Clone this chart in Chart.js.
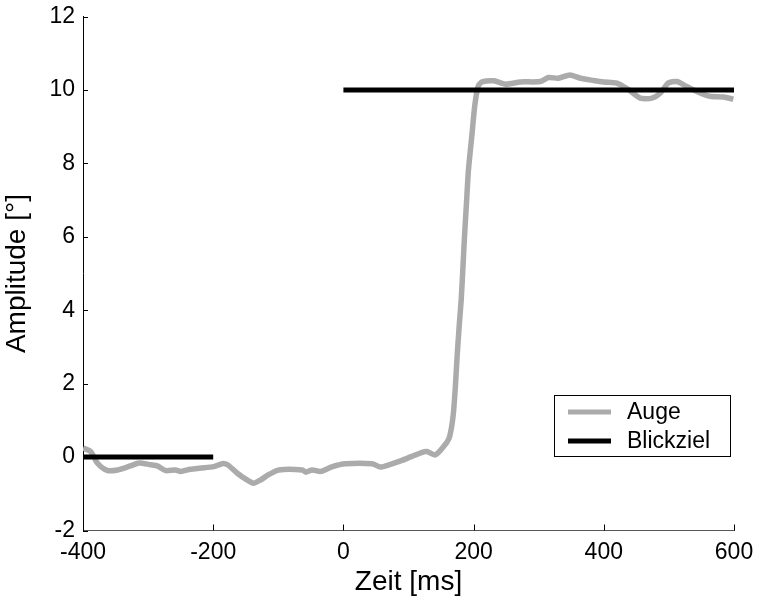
<!DOCTYPE html>
<html>
<head>
<meta charset="utf-8">
<script src="https://cdn.jsdelivr.net/npm/chart.js@4/dist/chart.umd.min.js"></script>
<style>
  body { margin: 0; background: #fff; }
  #box { width: 757px; height: 599px; }
</style>
</head>
<body>
<div id="box"><canvas id="canvas"></canvas></div>
<script>
// Auge (eye position)
var augeZeit = [-400,-388,-378,-363,-347,-327,-314,-296,-286,-273,-258,-250,-235,-219,-199,-186,-178,-163,-150,-138,
  -127,-115,-99,-63,-58,-48,-35,-17,3,44,57,70,90,105,118,128,141,154,162,166,
  169,172,175,178,181,184,186,189,192,197,202,207,213,231,249,272,302,315,330,348,
  364,384,400,420,438,456,474,487,499,512,527,548,563,584,599];
var augeWinkel = [0.25,0.15,-0.16,-0.36,-0.35,-0.24,-0.16,-0.21,-0.24,-0.37,-0.35,-0.39,-0.33,-0.30,-0.26,-0.18,-0.21,-0.44,-0.60,-0.71,
  -0.62,-0.48,-0.35,-0.35,-0.41,-0.35,-0.39,-0.26,-0.18,-0.18,-0.27,-0.21,-0.09,0.02,0.11,0.15,0.06,0.29,0.5,0.8,
  1.2,1.92,2.83,3.6,4.3,5.3,6.0,6.9,7.8,8.7,9.6,10.1,10.22,10.25,10.16,10.22,10.23,10.34,10.32,10.41,
  10.32,10.26,10.22,10.19,10.01,9.78,9.78,9.92,10.19,10.23,10.10,9.92,9.83,9.81,9.75];

// Blickziel (target), null = gap
var zielZeit = [-400, -200, -100, 0, 600];
var zielWinkel = [0, 0, null, 10, 10];

var xTicks = [-400, -200, 0, 200, 400, 600];
var yTicks = [-2, 0, 2, 4, 6, 8, 10, 12];

function points(xs, ys) {
  return xs.map(function (x, i) { return { x: x, y: ys[i] }; });
}

var font = 'Liberation Sans, Arial, sans-serif';

// inward tick marks + legend box, matlab style
var matlabStuff = {
  id: 'matlabStuff',
  afterDraw: function (chart) {
    var ctx = chart.ctx;
    var xs = chart.scales.x, ys = chart.scales.y;
    var a = chart.chartArea;
    ctx.save();
    ctx.lineWidth = 1;
    ctx.strokeStyle = '#000';
    yTicks.forEach(function (v) {
      var py = Math.round(ys.getPixelForValue(v)) + 0.5;
      ctx.beginPath();
      ctx.moveTo(a.left, py);
      ctx.lineTo(a.left + 5, py);
      ctx.stroke();
    });
    xTicks.forEach(function (v) {
      var px = Math.round(xs.getPixelForValue(v)) + 0.5;
      ctx.beginPath();
      ctx.moveTo(px, a.bottom);
      ctx.lineTo(px, a.bottom - 6);
      ctx.stroke();
    });

    // legend
    ctx.fillStyle = '#fff';
    ctx.fillRect(554.5, 395.5, 176, 61);
    ctx.strokeRect(554.5, 395.5, 176, 61);
    var rows = [[412, chart.data.datasets[0]], [441, chart.data.datasets[1]]];
    rows.forEach(function (r) {
      ctx.strokeStyle = r[1].borderColor;
      ctx.lineWidth = 5;
      ctx.beginPath();
      ctx.moveTo(568, r[0]);
      ctx.lineTo(611, r[0]);
      ctx.stroke();
      ctx.fillStyle = '#000';
      ctx.font = '23px ' + font;
      ctx.textBaseline = 'middle';
      ctx.fillText(r[1].label, 627, r[0] + 1);
    });
    ctx.restore();
  }
};

var ctx = document.getElementById('canvas').getContext('2d');
var chart = new Chart(ctx, {
  type: 'line',
  data: {
    datasets: [{
      label: 'Auge',
      data: points(augeZeit, augeWinkel),
      borderColor: '#ababab',
      borderWidth: 5.5,
      pointRadius: 0,
      tension: 0.25,
      order: 2
    }, {
      label: 'Blickziel',
      data: points(zielZeit, zielWinkel),
      borderColor: '#000',
      borderWidth: 5,
      pointRadius: 0,
      spanGaps: false,
      order: 1
    }]
  },
  options: {
    responsive: true,
    maintainAspectRatio: false,
    animation: false,
    layout: { padding: { left: 0, right: 23, top: 16.6, bottom: 0 } },
    plugins: {
      legend: { display: false },
      tooltip: { enabled: false }
    },
    scales: {
      x: {
        type: 'linear',
        min: -400, max: 600,
        afterBuildTicks: function (s) { s.ticks = xTicks.map(function (v) { return { value: v }; }); },
        afterFit: function (s) { s.height = 68.5; s.paddingLeft = 0; s.paddingRight = 0; },
        grid: { display: false, drawTicks: false },
        border: { display: true, color: '#555', width: 1 },
        ticks: { color: '#000', font: { family: font, size: 23 }, padding: 8, maxRotation: 0 },
        title: { display: true, text: 'Zeit [ms]', color: '#000', font: { family: font, size: 28 }, padding: { top: 0, bottom: 0 } }
      },
      y: {
        min: -2, max: 12,
        afterBuildTicks: function (s) { s.ticks = yTicks.map(function (v) { return { value: v }; }); },
        afterFit: function (s) { s.width = 83; s.paddingTop = 0; s.paddingBottom = 0; },
        grid: { display: false, drawTicks: false },
        border: { display: true, color: '#000', width: 1 },
        ticks: { color: '#000', font: { family: font, size: 23 }, padding: 8 },
        title: { display: true, text: 'Amplitude [°]', color: '#000', font: { family: font, size: 28 }, padding: { top: 0, bottom: 2 } }
      }
    }
  },
  plugins: [matlabStuff]
});
</script>
</body>
</html>
